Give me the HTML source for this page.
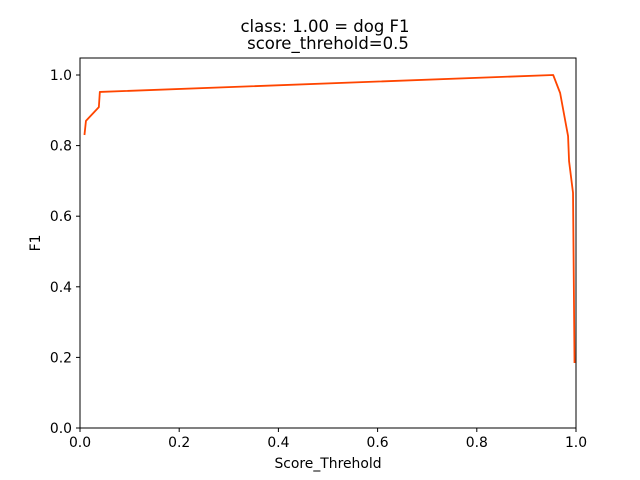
<!DOCTYPE html>
<html><head><meta charset="utf-8"><style>body{margin:0;background:#fff}svg{display:block;font-family:"DejaVu Sans",sans-serif}</style></head>
<body>
<svg id="chart" width="640" height="480" xmlns="http://www.w3.org/2000/svg">
<text x="325" y="32" font-size="16.5" text-anchor="middle">class: 1.00 = dog F1</text>
<text x="328" y="49" font-size="16.5" text-anchor="middle">score_threhold=0.5</text>
<g id="ticks"></g>
<polyline id="line" fill="none" stroke="#ff4500" stroke-width="1.8" stroke-linejoin="round"/>
<rect x="80" y="58" width="496" height="370" fill="none" stroke="#000" stroke-width="1"/>
<text x="328" y="468" font-size="13.9" text-anchor="middle">Score_Threhold</text>
<text x="40" y="243" font-size="13.9" text-anchor="middle" transform="rotate(-90 40 243)">F1</text>
</svg>
<script>
const xValues=[0.009,0.012,0.038,0.040,0.954,0.968,0.984,0.986,0.994,0.997];
const f1Values=[0.83,0.87,0.909,0.952,1.0,0.949,0.827,0.756,0.666,0.184];
const xTicks=[0,0.2,0.4,0.6,0.8,1.0];
const yTicks=[0,0.2,0.4,0.6,0.8,1.0];
const xs=v=>80+v*496, ys=v=>428-v*353;
const ns="http://www.w3.org/2000/svg";
const line=document.getElementById('line');
line.setAttribute('points',xValues.map((x,i)=>xs(x)+','+ys(f1Values[i])).join(' '));
const g=document.getElementById('ticks');
function mk(t,a){const e=document.createElementNS(ns,t);for(const k in a)e.setAttribute(k,a[k]);g.appendChild(e);return e;}
xTicks.forEach(v=>{const x=xs(v);
const l=mk('line',{x1:x,x2:x,y1:428,y2:432,stroke:'#000'});


const t=mk('text',{x:x,y:447,'font-size':13.9,'text-anchor':'middle'});t.textContent=v.toFixed(1);

});
yTicks.forEach(v=>{const y=ys(v);
const l=mk('line',{x1:76,x2:80,y1:y,y2:y,stroke:'#000'});


const t=mk('text',{x:72,y:y+5,'font-size':13.9,'text-anchor':'end'});t.textContent=v.toFixed(1);

});
</script>
</body></html>
